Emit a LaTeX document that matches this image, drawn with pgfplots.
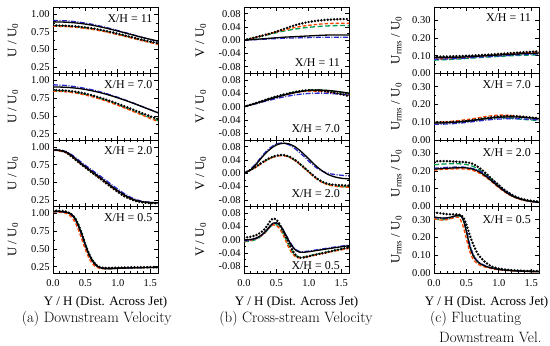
\documentclass[border=0pt]{standalone}
\usepackage{fontspec}
\usepackage{pgfplots}
\usepackage{pgfplotstable}
\pgfplotsset{compat=1.18}
\newfontfamily\tnr{Liberation Serif}
\definecolor{bcol}{RGB}{40,40,200}
\definecolor{rcol}{RGB}{255,69,0}
\definecolor{gcol}{RGB}{0,160,80}

% x = Y/H ; e = experiment (dots) ; k = black solid ; b = blue dash-dot ; r = red dashed ; g = green dashed
\pgfplotstableread{
x e k b r g
0    0.840 0.890 0.910 0.828 0.838
0.2  0.835 0.885 0.904 0.823 0.833
0.4  0.822 0.870 0.886 0.808 0.818
0.6  0.799 0.843 0.856 0.784 0.793
0.8  0.765 0.805 0.815 0.750 0.758
1.0  0.723 0.760 0.767 0.709 0.717
1.2  0.677 0.712 0.716 0.664 0.672
1.4  0.632 0.665 0.665 0.618 0.626
1.62 0.588 0.618 0.612 0.572 0.580
}\tAa
\pgfplotstableread{
x e k b r g
0    0.865 0.910 0.940 0.850 0.860
0.2  0.858 0.905 0.930 0.840 0.850
0.4  0.835 0.888 0.905 0.815 0.825
0.6  0.792 0.856 0.870 0.772 0.782
0.8  0.737 0.812 0.822 0.716 0.726
1.0  0.672 0.756 0.763 0.650 0.660
1.2  0.602 0.692 0.697 0.577 0.587
1.4  0.530 0.622 0.625 0.502 0.512
1.62 0.455 0.545 0.545 0.420 0.432
}\tAb
\pgfplotstableread{
x e k b r g
0    0.965 0.960 0.960 0.955 0.958
0.1  0.955 0.952 0.955 0.945 0.950
0.2  0.925 0.932 0.937 0.922 0.928
0.3  0.855 0.872 0.885 0.860 0.866
0.4  0.780 0.795 0.812 0.782 0.788
0.5  0.710 0.723 0.742 0.710 0.716
0.6  0.640 0.655 0.675 0.642 0.648
0.7  0.572 0.588 0.610 0.576 0.582
0.8  0.502 0.518 0.542 0.506 0.512
0.9  0.432 0.448 0.472 0.437 0.442
1.0  0.365 0.383 0.405 0.372 0.377
1.1  0.305 0.325 0.342 0.315 0.318
1.2  0.262 0.275 0.290 0.268 0.270
1.3  0.232 0.242 0.252 0.238 0.239
1.4  0.215 0.225 0.230 0.222 0.222
1.5  0.208 0.217 0.219 0.214 0.214
1.62 0.205 0.212 0.213 0.210 0.210
}\tAc
\pgfplotstableread{
x e k b r g
0    1.040 1.030 1.030 1.025 1.030
0.1  1.038 1.028 1.028 1.020 1.028
0.2  1.030 1.020 1.020 1.005 1.022
0.25 1.010 1.005 1.003 0.980 1.010
0.3  0.980 0.975 0.970 0.935 0.985
0.35 0.920 0.910 0.905 0.860 0.925
0.4  0.820 0.810 0.805 0.750 0.830
0.45 0.700 0.690 0.685 0.620 0.710
0.5  0.560 0.550 0.555 0.490 0.575
0.55 0.440 0.430 0.440 0.380 0.450
0.6  0.350 0.340 0.350 0.300 0.355
0.65 0.290 0.280 0.290 0.255 0.290
0.7  0.250 0.245 0.252 0.232 0.250
0.75 0.235 0.228 0.232 0.222 0.230
0.8  0.232 0.222 0.225 0.220 0.222
0.9  0.232 0.222 0.224 0.222 0.222
1.0  0.235 0.226 0.227 0.226 0.226
1.2  0.240 0.232 0.233 0.232 0.232
1.4  0.242 0.236 0.237 0.236 0.236
1.62 0.245 0.240 0.240 0.240 0.240
}\tAd
\pgfplotstableread{
x e k b r g
0    0.000 0.000 0.000 0.000 0.000
0.2  0.010 0.003 0.002 0.010 0.009
0.4  0.020 0.006 0.004 0.020 0.018
0.6  0.033 0.009 0.006 0.030 0.027
0.8  0.046 0.011 0.007 0.039 0.034
1.0  0.055 0.013 0.008 0.045 0.039
1.2  0.060 0.015 0.009 0.049 0.042
1.4  0.063 0.016 0.009 0.051 0.044
1.62 0.064 0.016 0.009 0.051 0.044
}\tBa
\pgfplotstableread{
x e k b r g
0    0.000 0.000 0.000 0.000 0.000
0.2  0.012 0.011 0.010 0.011 0.012
0.4  0.025 0.023 0.020 0.023 0.025
0.6  0.036 0.034 0.029 0.034 0.036
0.8  0.045 0.043 0.036 0.043 0.045
1.0  0.050 0.049 0.040 0.047 0.050
1.2  0.048 0.050 0.041 0.046 0.050
1.4  0.042 0.047 0.039 0.041 0.046
1.62 0.032 0.041 0.036 0.034 0.039
}\tBb
\pgfplotstableread{
x e k b r g
0    0.000 0.000 0.000 0.000 0.000
0.1  0.010 0.010 0.012 0.009 0.010
0.2  0.022 0.030 0.033 0.020 0.021
0.3  0.035 0.053 0.057 0.033 0.034
0.4  0.046 0.072 0.076 0.044 0.045
0.5  0.053 0.085 0.088 0.051 0.052
0.6  0.055 0.090 0.091 0.053 0.054
0.7  0.050 0.088 0.085 0.048 0.049
0.8  0.038 0.078 0.072 0.036 0.037
0.9  0.022 0.062 0.055 0.020 0.021
1.0  0.005 0.043 0.036 0.003 0.004
1.1  -0.012 0.024 0.019 -0.014 -0.013
1.2  -0.025 0.008 0.007 -0.027 -0.026
1.3  -0.032 -0.004 0.000 -0.035 -0.034
1.4  -0.035 -0.011 -0.004 -0.039 -0.038
1.5  -0.036 -0.015 -0.006 -0.041 -0.040
1.62 -0.037 -0.017 -0.008 -0.042 -0.041
}\tBc
\pgfplotstableread{
x e k b r g
0    0.006 -0.001 -0.003 -0.004 -0.006
0.1  0.009 0.001 -0.001 -0.002 -0.004
0.2  0.015 0.006 0.005 0.004 0.002
0.3  0.028 0.019 0.018 0.017 0.016
0.35 0.040 0.029 0.028 0.027 0.026
0.4  0.055 0.041 0.040 0.038 0.038
0.45 0.064 0.050 0.049 0.045 0.046
0.5  0.060 0.051 0.050 0.043 0.045
0.55 0.047 0.044 0.044 0.033 0.036
0.6  0.028 0.030 0.031 0.016 0.020
0.65 0.008 0.012 0.014 -0.006 0.000
0.7  -0.012 -0.006 -0.004 -0.027 -0.020
0.75 -0.032 -0.021 -0.019 -0.043 -0.037
0.8  -0.047 -0.032 -0.030 -0.052 -0.048
0.85 -0.054 -0.037 -0.035 -0.055 -0.052
0.9  -0.054 -0.038 -0.036 -0.054 -0.052
1.0  -0.050 -0.036 -0.034 -0.050 -0.048
1.1  -0.045 -0.033 -0.031 -0.046 -0.044
1.2  -0.041 -0.030 -0.028 -0.042 -0.040
1.4  -0.032 -0.024 -0.022 -0.034 -0.032
1.62 -0.023 -0.018 -0.016 -0.026 -0.024
}\tBd
\pgfplotstableread{
x e k b r g
0    0.095 0.088 0.080 0.080 0.075
0.2  0.096 0.090 0.082 0.084 0.078
0.4  0.098 0.092 0.085 0.088 0.082
0.6  0.101 0.096 0.090 0.094 0.087
0.8  0.105 0.100 0.094 0.100 0.092
1.0  0.110 0.104 0.098 0.106 0.096
1.2  0.115 0.108 0.103 0.112 0.100
1.4  0.120 0.112 0.107 0.117 0.103
1.62 0.125 0.115 0.110 0.120 0.105
}\tCa
\pgfplotstableread{
x e k b r g
0    0.100 0.095 0.088 0.100 0.100
0.2  0.100 0.097 0.090 0.103 0.100
0.4  0.104 0.102 0.095 0.110 0.104
0.6  0.112 0.110 0.103 0.120 0.110
0.8  0.123 0.120 0.112 0.132 0.120
1.0  0.132 0.128 0.118 0.140 0.125
1.2  0.135 0.130 0.120 0.137 0.122
1.4  0.130 0.127 0.118 0.128 0.115
1.62 0.122 0.120 0.113 0.120 0.110
}\tCb
\pgfplotstableread{
x e k b r g
0    0.255 0.210 0.215 0.205 0.235
0.2  0.255 0.215 0.220 0.210 0.240
0.4  0.251 0.218 0.222 0.212 0.240
0.5  0.249 0.217 0.220 0.210 0.236
0.6  0.240 0.210 0.213 0.203 0.226
0.7  0.217 0.195 0.200 0.188 0.207
0.8  0.187 0.170 0.178 0.165 0.180
0.9  0.152 0.140 0.148 0.136 0.148
1.0  0.120 0.110 0.116 0.106 0.116
1.1  0.090 0.082 0.087 0.079 0.087
1.2  0.066 0.060 0.064 0.058 0.064
1.3  0.049 0.045 0.047 0.043 0.047
1.4  0.039 0.035 0.036 0.033 0.036
1.5  0.032 0.028 0.029 0.027 0.029
1.62 0.028 0.023 0.024 0.022 0.024
}\tCc
\pgfplotstableread{
x e k b r g
0    0.340 0.315 0.313 0.305 0.305
0.1  0.336 0.310 0.308 0.298 0.300
0.2  0.331 0.310 0.309 0.300 0.302
0.3  0.330 0.318 0.317 0.310 0.312
0.35 0.330 0.324 0.323 0.315 0.320
0.4  0.328 0.325 0.325 0.305 0.320
0.45 0.315 0.300 0.305 0.262 0.300
0.5  0.272 0.232 0.242 0.192 0.237
0.55 0.215 0.152 0.162 0.122 0.157
0.6  0.165 0.100 0.108 0.080 0.105
0.65 0.125 0.072 0.077 0.058 0.074
0.7  0.095 0.055 0.058 0.045 0.056
0.8  0.058 0.037 0.039 0.032 0.038
0.9  0.035 0.027 0.028 0.024 0.028
1.0  0.025 0.020 0.021 0.018 0.021
1.1  0.020 0.016 0.017 0.015 0.017
1.2  0.016 0.013 0.014 0.012 0.014
1.4  0.012 0.010 0.010 0.009 0.010
1.62 0.010 0.008 0.008 0.007 0.008
}\tCd

\tikzset{xh/.style={font=\tnr\fontsize{12}{14}\selectfont, inner sep=0pt}}
\pgfplotsset{
  panel/.style={
    scale only axis, width=105bp, height=66.5bp,
    xmin=0, xmax=1.62,
    xtick={0,0.5,1,1.5}, minor x tick num=4, xticklabels={},
    tick align=inside,
    major tick length=4bp, minor tick length=2.2bp,
    axis line style={line width=0.8bp},
    every tick/.append style={line width=0.7bp, black},
    tick label style={font=\tnr\fontsize{10.5}{12}\selectfont},
    xticklabel style={yshift=-3bp},
    /pgf/number format/assume math mode=true,
    label style={font=\tnr\fontsize{13}{15}\selectfont},
    clip=true,
  },
  colU/.style={ymin=0.16, ymax=1.1, ytick={0.25,0.5,0.75,1}, yticklabels={0.25,0.50,0.75,1.00},
    minor y tick num=1, ylabel={U / U\textsubscript{0}},
    ylabel style={at={(axis description cs:-0.381,0.5)}, anchor=center}},
  colV/.style={ymin=-0.1, ymax=0.1, ytick={-0.08,-0.04,0,0.04,0.08}, yticklabels={-0.08,-0.04,0.00,0.04,0.08},
    minor y tick num=1, ylabel={V / U\textsubscript{0}},
    ylabel style={at={(axis description cs:-0.41,0.5)}, anchor=center}},
  colR/.style={ymin=0, ymax=0.374, ytick={0,0.1,0.2,0.3}, yticklabels={0.00,0.10,0.20,0.30},
    minor y tick num=1, ylabel={U\textsubscript{rms} / U\textsubscript{0}},
    ylabel style={at={(axis description cs:-0.358,0.5)}, anchor=center}},
  bottomrow/.style={xticklabels={0.0,0.5,1.0,1.5}, xlabel={Y / H (Dist. Across Jet)},
    xlabel style={at={(axis description cs:0.5,0)}, anchor=base, yshift=-32bp}},
}
\newcommand\curves[1]{%
  \addplot[gcol, line width=1.3bp, dash pattern=on 5bp off 2.5bp, smooth] table[x=x,y=g]{#1};
  \addplot[rcol, line width=1.3bp, dash pattern=on 3.5bp off 2bp, smooth] table[x=x,y=r]{#1};
  \addplot[bcol, line width=1.3bp, dash pattern=on 5bp off 1.5bp on 1bp off 1.5bp, smooth] table[x=x,y=b]{#1};
  \addplot[black, line width=1.3bp, smooth] table[x=x,y=k]{#1};
  \addplot[black, line width=2.7bp, line cap=round, dash pattern=on 0bp off 3.2bp, smooth] table[x=x,y=e]{#1};
}

\begin{document}
\begin{tikzpicture}[x=1bp,y=1bp]
\useasboundingbox (0,0) rectangle (550,345);
% ---------- column (a) ----------
\begin{axis}[panel, colU, at={(53bp,271.5bp)}, anchor=south west]
\curves{\tAa}
\node[xh, anchor=north east] at (rel axis cs:0.948,0.895) {X/H = 11};
\end{axis}
\begin{axis}[panel, colU, at={(53bp,205bp)}, anchor=south west]
\curves{\tAb}
\node[xh, anchor=north east] at (rel axis cs:0.948,0.9) {X/H = 7.0};
\end{axis}
\begin{axis}[panel, colU, at={(53bp,138.5bp)}, anchor=south west]
\curves{\tAc}
\node[xh, anchor=north east] at (rel axis cs:0.948,0.9) {X/H = 2.0};
\end{axis}
\begin{axis}[panel, colU, bottomrow, at={(53bp,72bp)}, anchor=south west]
\curves{\tAd}
\node[xh, anchor=north east] at (rel axis cs:0.948,0.89) {X/H = 0.5};
\end{axis}
% ---------- column (b) ----------
\begin{axis}[panel, colV, at={(244bp,271.5bp)}, anchor=south west]
\curves{\tBa}
\node[xh, anchor=base east] at (rel axis cs:0.914,0.11) {X/H = 11};
\end{axis}
\begin{axis}[panel, colV, at={(244bp,205bp)}, anchor=south west]
\curves{\tBb}
\node[xh, anchor=base east] at (rel axis cs:0.914,0.12) {X/H = 7.0};
\end{axis}
\begin{axis}[panel, colV, at={(244bp,138.5bp)}, anchor=south west]
\curves{\tBc}
\node[xh, anchor=base east] at (rel axis cs:0.914,0.13) {X/H = 2.0};
\end{axis}
\begin{axis}[panel, colV, bottomrow, at={(244bp,72bp)}, anchor=south west]
\curves{\tBd}
\node[xh, anchor=base east] at (rel axis cs:0.914,0.06) {X/H = 0.5};
\end{axis}
% ---------- column (c) ----------
\begin{axis}[panel, colR, at={(434bp,271.5bp)}, anchor=south west]
\curves{\tCa}
\node[xh, anchor=north east] at (rel axis cs:0.924,0.905) {X/H = 11};
\end{axis}
\begin{axis}[panel, colR, at={(434bp,205bp)}, anchor=south west]
\curves{\tCb}
\node[xh, anchor=north east] at (rel axis cs:0.924,0.89) {X/H = 7.0};
\end{axis}
\begin{axis}[panel, colR, at={(434bp,138.5bp)}, anchor=south west]
\curves{\tCc}
\node[xh, anchor=north east] at (rel axis cs:0.924,0.88) {X/H = 2.0};
\end{axis}
\begin{axis}[panel, colR, bottomrow, at={(434bp,72bp)}, anchor=south west]
\curves{\tCd}
\node[xh, anchor=north east] at (rel axis cs:0.924,0.87) {X/H = 0.5};
\end{axis}
% ---------- sub-captions ----------
\node[anchor=base, inner sep=0pt, font=\fontsize{15}{18}\selectfont] at (96.7,22.5) {(a) Downstream Velocity};
\node[anchor=base, inner sep=0pt, font=\fontsize{15}{18}\selectfont] at (296,22.5) {(b) Cross-stream Velocity};
\node[anchor=base west, inner sep=0pt, font=\fontsize{15}{18}\selectfont] at (430,22.5) {(c) Fluctuating};
\node[anchor=base west, inner sep=0pt, font=\fontsize{15}{18}\selectfont] at (439,3) {Downstream Vel.};
\end{tikzpicture}
\end{document}
